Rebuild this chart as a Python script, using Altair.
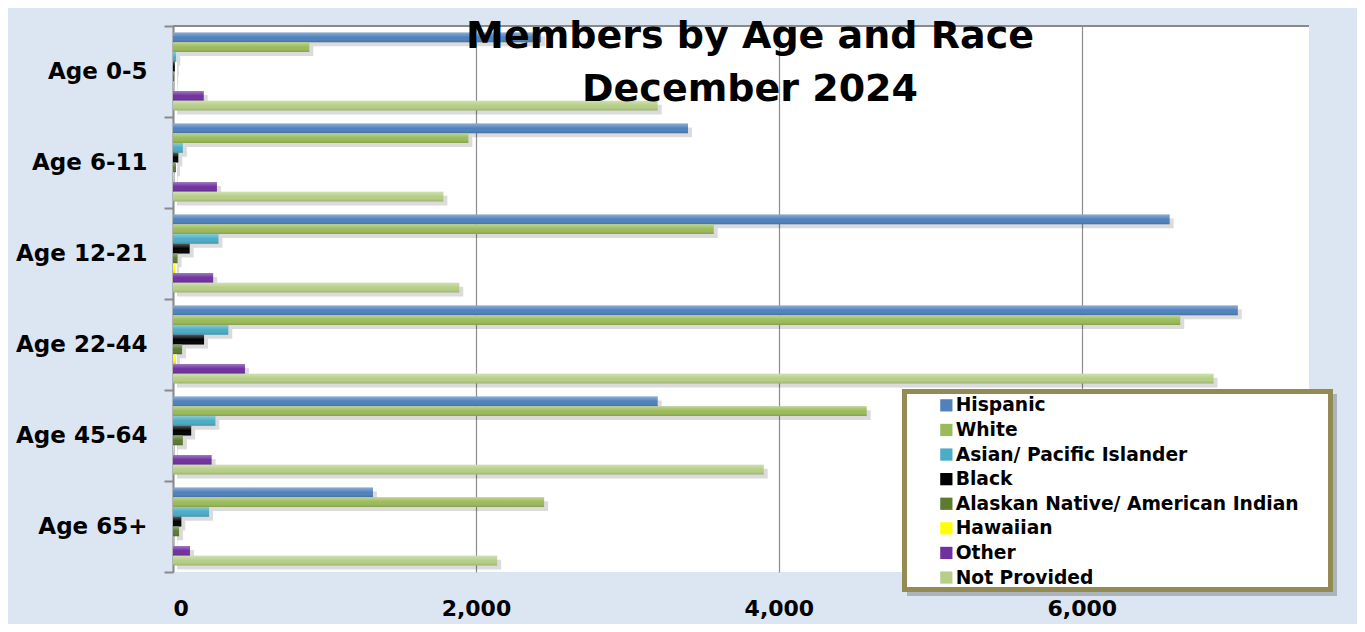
import altair as alt
import pandas as pd

categories = ["Age 0-5", "Age 6-11", "Age 12-21", "Age 22-44", "Age 45-64", "Age 65+"]
races = ["Hispanic", "White", "Asian/ Pacific Islander", "Black",
         "Alaskan Native/ American Indian", "Hawaiian", "Other", "Not Provided"]

hispanic = [2430, 3400, 6580, 7030, 3200, 1320]
white = [900, 1950, 3570, 6650, 4580, 2450]
asian = [22, 65, 300, 365, 280, 238]
black = [12, 35, 110, 205, 120, 55]
alaskan = [8, 20, 30, 60, 65, 40]
hawaiian = [3, 5, 15, 20, 5, 3]
other = [203, 290, 265, 475, 255, 112]
not_provided = [3200, 1785, 1890, 6870, 3900, 2140]

series = [hispanic, white, asian, black, alaskan, hawaiian, other, not_provided]
colors = ["#4f81bd", "#9bbb59", "#4bacc6", "#000000", "#5c7a30", "#ffff00", "#7030a0", "#b5cf86"]
tick_values = [0, 2000, 4000, 6000]
title_lines = ["Members by Age and Race", "December 2024"]

rows = []
for race, vals in zip(races, series):
    for cat, v in zip(categories, vals):
        rows.append({"age": cat, "race": race, "members": v})
df = pd.DataFrame(rows)

FONT = "DejaVu Sans"
W, H = 1136, 546

y_enc = alt.Y(
    "age:N", sort=categories,
    scale=alt.Scale(paddingInner=0, paddingOuter=0),
    axis=alt.Axis(title=None, labelFont=FONT, labelFontSize=23, labelFontWeight="bold",
                  labelColor="black", labelPadding=17, tickBand="extent", tickSize=9,
                  tickColor="#8a8a8a", tickWidth=2, domainColor="#8a8a8a", domainWidth=2,
                  grid=False),
)
x_enc = alt.X(
    "members:Q",
    scale=alt.Scale(domain=[0, 7500], nice=False),
    axis=alt.Axis(title=None, values=tick_values, format=",.0f", labelFont=FONT, labelFontSize=22,
                  labelFontWeight="bold", labelColor="black", labelPadding=26, ticks=False,
                  domain=False, grid=True, gridColor="#8c8c8c", gridWidth=1.2),
)
color_enc = alt.Color(
    "race:N", sort=races,
    scale=alt.Scale(domain=races, range=colors),
    legend=alt.Legend(orient="none", legendX=764, legendY=370, title=None, labelFont=FONT,
                      labelFontSize=18.7, labelFontWeight="bold", labelColor="black",
                      labelLimit=0, symbolType="square", symbolSize=150, symbolStrokeWidth=0,
                      symbolOpacity=1, rowPadding=4.6, labelOffset=0, padding=0),
)

base = alt.Chart(df)

shadow = base.mark_bar(color="#000000", opacity=0.14, xOffset=4).encode(
    x=x_enc, y=y_enc,
    yOffset=alt.YOffset("race:N", sort=races, scale=alt.Scale(range=[10.5, 88.5])),
)

bars = base.mark_bar().encode(
    x=x_enc, y=y_enc,
    yOffset=alt.YOffset("race:N", sort=races, scale=alt.Scale(range=[6.5, 84.5])),
    color=color_enc,
)

gloss = base.mark_bar(
    color=alt.Gradient(
        gradient="linear", x1=0, x2=0, y1=0, y2=1,
        stops=[alt.GradientStop(color="rgba(255,255,255,0.35)", offset=0),
               alt.GradientStop(color="rgba(255,255,255,0)", offset=0.5),
               alt.GradientStop(color="rgba(0,0,0,0.15)", offset=1)],
    )
).encode(
    x=x_enc, y=y_enc,
    yOffset=alt.YOffset("race:N", sort=races, scale=alt.Scale(range=[6.5, 84.5])),
)

one = pd.DataFrame({"k": [0]})

top_rule = alt.Chart(one).mark_rule(color="#8a8a8a", strokeWidth=2).encode(
    x=alt.value(0), x2=alt.value(W), y=alt.value(0)
)

title = alt.Chart(one).mark_text(
    text=title_lines, font=FONT, fontSize=38, fontWeight="bold", color="black",
    align="center", baseline="alphabetic", lineHeight=53,
).encode(x=alt.value(577), y=alt.value(22))

box_shadow = alt.Chart(one).mark_rect(fill="#000000", opacity=0.22).encode(
    x=alt.value(734), x2=alt.value(1164), y=alt.value(368), y2=alt.value(570)
)
box = alt.Chart(one).mark_rect(fill="white", stroke="#948a54", strokeWidth=5).encode(
    x=alt.value(731.5), x2=alt.value(1157.5), y=alt.value(365.5), y2=alt.value(563.5)
)

chart = alt.layer(shadow, bars, gloss, top_rule, title, box_shadow, box).resolve_scale(
    yOffset="independent"
).properties(
    width=W, height=H,
    padding={"left": 165, "top": 18, "right": 48, "bottom": 52},
    autosize=alt.AutoSizeParams(type="none"),
    background="#dce6f2",
).configure_view(fill="white", stroke=None)

chart.save("out.html", embed_options={"renderer": "svg", "actions": False})
